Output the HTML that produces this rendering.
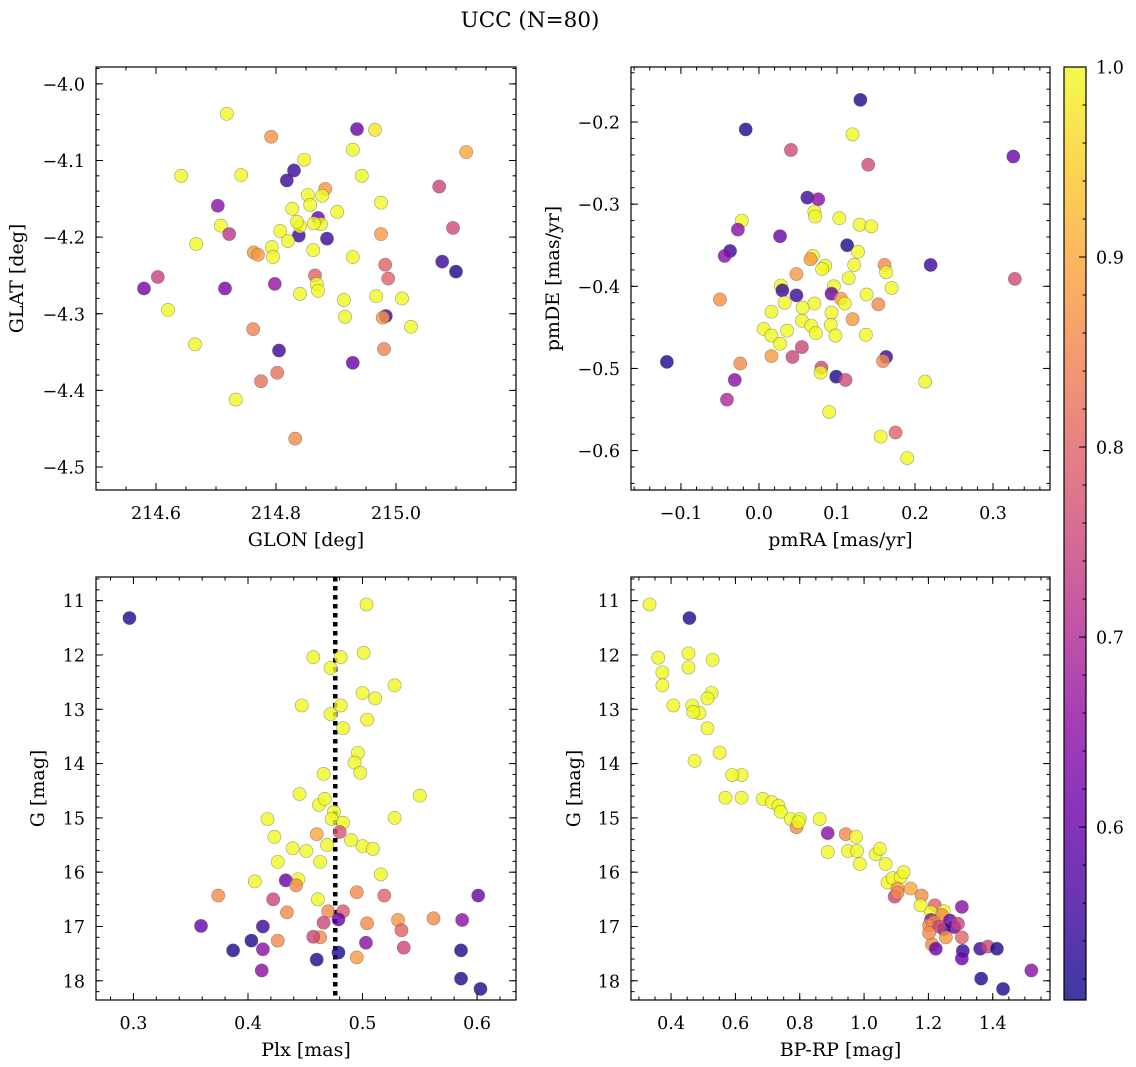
<!DOCTYPE html>
<html><head><meta charset="utf-8">
<style>
html,body{margin:0;padding:0;background:#fff;}
svg{display:block;font-family:"DejaVu Serif","Liberation Serif",serif;}
</style></head>
<body>
<svg id="fig" width="1136" height="1067" viewBox="0 0 1136 1067" xmlns="http://www.w3.org/2000/svg">
<text x="530" y="27" text-anchor="middle" font-size="21.5">UCC (N=80)</text>
</svg>
<script>
// ---- Panel 1: GLON vs GLAT ----
const glonA = [214.718,214.792,214.935,214.965,215.117,214.928,214.642,214.742,214.847,214.830,214.818,215.072,214.943,214.703,214.882,214.853,214.877,214.827,214.857,214.902,214.975,214.708,214.722,214.667,214.807,214.838,214.820,214.840,214.870,214.875,214.863,214.885,214.975,215.095,214.793,214.862,214.835,214.763,214.770,214.795,214.928,215.077,215.100,214.982,214.987,214.603,214.580,214.715,214.798,214.865,214.868,214.870,214.840,214.967,214.913,215.010,214.620,214.915,214.983,214.978,215.025,214.762,214.665,214.980,214.805,214.928,214.802,214.775,214.733,214.832];
const glatA = [-4.039,-4.069,-4.059,-4.060,-4.089,-4.086,-4.120,-4.119,-4.099,-4.113,-4.126,-4.134,-4.120,-4.159,-4.137,-4.145,-4.146,-4.163,-4.158,-4.167,-4.155,-4.185,-4.196,-4.209,-4.192,-4.198,-4.205,-4.186,-4.175,-4.183,-4.182,-4.202,-4.196,-4.188,-4.213,-4.217,-4.180,-4.220,-4.223,-4.226,-4.226,-4.232,-4.245,-4.236,-4.254,-4.252,-4.267,-4.267,-4.261,-4.250,-4.261,-4.270,-4.274,-4.277,-4.282,-4.280,-4.295,-4.304,-4.303,-4.305,-4.317,-4.320,-4.340,-4.346,-4.348,-4.364,-4.377,-4.388,-4.412,-4.463];
const probA = [1,0.87,0.6,0.98,0.9,1,1,1,1,0.55,0.55,0.75,1,0.65,0.88,1,1,1,1,1,1,1,0.72,1,1,0.55,1,1,0.6,1,1,0.55,0.88,0.76,1,1,1,0.88,0.88,1,1,0.55,0.52,0.8,0.8,0.74,0.62,0.62,0.66,0.8,1,1,1,1,1,1,1,1,0.55,0.88,1,0.85,1,0.85,0.55,0.6,0.82,0.82,1,0.86];

// ---- Panel 2: pmRA vs pmDE ----
const pmraB = [0.130,-0.017,0.120,0.326,0.041,0.140,0.062,0.076,0.071,0.072,-0.022,0.103,0.129,0.144,-0.027,0.027,0.113,0.127,-0.037,-0.044,0.069,0.066,0.122,0.085,0.081,0.220,0.161,0.163,0.048,0.115,0.328,0.028,0.096,0.170,0.030,0.048,0.093,0.138,0.105,-0.050,0.033,0.071,0.110,0.153,0.056,0.016,0.093,0.120,0.055,0.067,0.092,0.006,0.036,0.073,0.137,0.098,0.016,0.027,0.055,0.016,0.043,0.163,0.159,-0.118,-0.024,0.080,0.079,0.099,0.111,-0.031,0.213,-0.041,0.090,0.156,0.175,0.190];
const pmdeB = [-0.173,-0.209,-0.215,-0.242,-0.234,-0.252,-0.292,-0.294,-0.309,-0.315,-0.320,-0.317,-0.325,-0.327,-0.331,-0.339,-0.350,-0.358,-0.357,-0.363,-0.363,-0.367,-0.374,-0.375,-0.379,-0.374,-0.374,-0.383,-0.385,-0.390,-0.391,-0.399,-0.400,-0.402,-0.405,-0.411,-0.409,-0.410,-0.415,-0.416,-0.420,-0.421,-0.421,-0.422,-0.426,-0.431,-0.432,-0.440,-0.442,-0.448,-0.447,-0.452,-0.454,-0.457,-0.459,-0.460,-0.460,-0.470,-0.474,-0.485,-0.486,-0.486,-0.491,-0.492,-0.494,-0.499,-0.505,-0.510,-0.514,-0.514,-0.516,-0.538,-0.553,-0.583,-0.578,-0.609];
const probB = [0.52,0.52,1,0.6,0.76,0.76,0.55,0.65,1,1,1,1,1,1,0.65,0.6,0.52,1,0.55,0.65,1,0.88,1,1,1,0.55,0.86,1,0.88,1,0.76,1,1,1,0.55,0.55,0.6,1,0.88,0.87,1,1,1,0.86,1,1,1,0.88,1,1,1,1,1,1,1,1,1,1,0.75,0.88,0.75,0.55,0.86,0.52,0.86,0.76,1,0.52,0.76,0.65,1,0.7,1,1,0.8,1];

// ---- Panel 3: Plx vs G ----
const plxC = [0.2965,0.5035,0.457,0.472,0.481,0.501,0.500,0.511,0.528,0.447,0.481,0.472,0.504,0.483,0.496,0.493,0.498,0.466,0.445,0.550,0.462,0.467,0.475,0.473,0.483,0.417,0.528,0.423,0.460,0.480,0.469,0.490,0.500,0.509,0.439,0.451,0.463,0.426,0.516,0.444,0.406,0.433,0.442,0.495,0.374,0.519,0.422,0.461,0.470,0.434,0.483,0.601,0.562,0.531,0.504,0.479,0.466,0.587,0.359,0.413,0.534,0.463,0.457,0.426,0.503,0.403,0.536,0.387,0.413,0.479,0.586,0.460,0.495,0.412,0.586,0.603];
const gC = [11.32,11.07,12.04,12.24,12.04,11.96,12.70,12.80,12.56,12.93,12.93,13.09,13.19,13.35,13.80,13.98,14.17,14.19,14.56,14.59,14.76,14.65,14.89,15.02,15.09,15.02,15.00,15.35,15.30,15.26,15.50,15.41,15.52,15.57,15.56,15.61,15.81,15.81,16.04,16.13,16.17,16.15,16.24,16.37,16.43,16.43,16.50,16.50,16.72,16.74,16.72,16.43,16.85,16.88,16.94,16.87,16.93,16.88,16.99,17.00,17.07,17.20,17.19,17.26,17.30,17.26,17.39,17.44,17.42,17.48,17.44,17.61,17.57,17.81,17.96,18.15];
const probC = [0.52,1,1,1,1,1,1,1,1,1,1,1,1,1,1,1,1,1,1,1,1,1,1,1,1,1,1,1,0.9,0.78,1,1,1,1,1,1,1,1,1,1,1,0.6,0.86,0.86,0.86,0.8,0.75,1,0.86,0.86,0.78,0.6,0.86,0.88,0.86,0.6,0.75,0.65,0.6,0.55,0.8,0.86,0.75,0.86,0.65,0.52,0.75,0.52,0.65,0.52,0.52,0.52,0.88,0.65,0.52,0.52];
const plxCut = [0.4762];

// ---- Panel 4: BP-RP vs G ----
const bprpD = [0.333,0.457,0.360,0.454,0.529,0.373,0.454,0.373,0.526,0.513,0.407,0.466,0.488,0.469,0.513,0.551,0.473,0.619,0.590,0.569,0.619,0.685,0.713,0.734,0.741,0.772,0.800,0.790,0.796,0.862,0.887,0.943,0.975,0.887,0.950,0.978,1.036,1.049,0.987,1.067,1.073,1.089,1.114,1.123,1.104,1.095,1.104,1.145,1.179,1.176,1.220,1.304,1.208,1.248,1.242,1.208,1.217,1.202,1.267,1.280,1.248,1.233,1.292,1.254,1.304,1.211,1.223,1.202,1.307,1.361,1.385,1.413,1.304,1.520,1.364,1.432];
const gD = [11.07,11.32,12.05,11.97,12.09,12.32,12.23,12.56,12.70,12.80,12.93,12.93,13.07,13.05,13.35,13.80,13.95,14.21,14.21,14.63,14.63,14.65,14.71,14.78,14.89,15.02,15.02,15.17,15.08,15.02,15.28,15.30,15.35,15.63,15.61,15.61,15.67,15.57,15.85,15.85,16.19,16.11,16.09,16.00,16.30,16.45,16.38,16.30,16.43,16.61,16.61,16.64,16.74,16.72,16.79,16.88,16.92,16.98,16.89,17.01,17.05,17.00,16.95,17.20,17.20,17.33,17.41,17.12,17.45,17.41,17.37,17.41,17.59,17.81,17.96,18.15];
const probD = [1,0.52,1,1,1,1,1,1,1,1,1,1,1,1,1,1,1,1,1,1,1,1,1,1,1,1,1,0.86,1,1,0.65,0.86,1,1,1,1,1,1,1,1,1,1,1,1,0.88,0.75,0.86,0.9,0.86,1,0.8,0.65,1,1,0.86,0.65,0.86,0.86,0.6,0.6,0.55,0.75,0.75,0.88,0.8,0.86,0.6,0.86,0.55,0.55,0.75,0.52,0.6,0.65,0.52,0.52];

const cbTicks = [0.6,0.7,0.8,0.9,1.0];
const cMin = 0.509, cMax = 1.0;

const NS = "http://www.w3.org/2000/svg";
const svg = document.getElementById('fig');
function mk(tag, attrs, parent){ const e=document.createElementNS(NS,tag); for(const k in attrs) e.setAttribute(k,attrs[k]); (parent||svg).appendChild(e); return e; }

const plasma = [[13,8,135],[65,4,157],[106,0,168],[143,13,164],[177,42,144],[204,71,120],[225,100,98],[242,132,75],[252,166,54],[252,206,37],[240,249,33]];
function cmap(v){
  let t=(v-cMin)/(cMax-cMin); t=Math.max(0,Math.min(1,t));
  const f=t*10, i=Math.min(9,Math.floor(f)), r=f-i;
  const a=plasma[i], b=plasma[i+1];
  return 'rgb('+[0,1,2].map(k=>Math.round(a[k]+(b[k]-a[k])*r)).join(',')+')';
}
function fmt(v,d){ const s=Math.abs(v).toFixed(d); return (v<-1e-9?'\u2212':'')+s; }
const TF=17.5, LF=19;

function panel(cfg){
  const {name,x0,x1,y0,y1,xd,yd,yinv,xMaj,xMin,yMaj,yMin,xdec,ydec,xlabel,ylabel,ylabx} = cfg;
  const sx = v => x0 + (v-xd[0])/(xd[1]-xd[0])*(x1-x0);
  const sy = yinv ? (v => y0 + (v-yd[0])/(yd[1]-yd[0])*(y1-y0)) : (v => y1 - (v-yd[0])/(yd[1]-yd[0])*(y1-y0));
  const g = mk('g',{});
  
  
  const clipId='clip-'+name;
  const cp=mk('clipPath',{id:clipId},g); mk('rect',{x:x0,y:y0,width:x1-x0,height:y1-y0},cp);
  const marks=mk('g',{'clip-path':'url(#'+clipId+')'},g);
  
  
  if(cfg.vline){
    const vl=mk('line',{x1:sx(cfg.vline[0]),x2:sx(cfg.vline[0]),y1:y0,y2:y1,stroke:'#000','stroke-width':4.5,'stroke-dasharray':'4.5,4.5'},marks);
    
    
  }
  for(let i=0;i<cfg.xs.length;i++){
    const c=mk('circle',{cx:sx(cfg.xs[i]),cy:sy(cfg.ys[i]),r:6.6,fill:cmap(cfg.cs[i]),'fill-opacity':0.8,stroke:'#555','stroke-opacity':0.55,'stroke-width':0.6},marks);
    
    
  }
  const ax=mk('g',{stroke:'#000','stroke-width':1},g);
  
  
  mk('rect',{x:x0,y:y0,width:x1-x0,height:y1-y0,fill:'none','stroke-width':1.2},ax);
  const eps=1e-9;
  for(let v=Math.ceil(xd[0]/xMin-eps)*xMin; v<=xd[1]+eps; v+=xMin){ const p=sx(v); mk('line',{x1:p,x2:p,y1:y1,y2:y1-3.5},ax); mk('line',{x1:p,x2:p,y1:y0,y2:y0+3.5},ax); }
  for(let v=Math.ceil(yd[0]/yMin-eps)*yMin; v<=yd[1]+eps; v+=yMin){ const p=sy(v); mk('line',{x1:x0,x2:x0+3.5,y1:p,y2:p},ax); mk('line',{x1:x1,x2:x1-3.5,y1:p,y2:p},ax); }
  xMaj.forEach(v=>{ const p=sx(v); mk('line',{x1:p,x2:p,y1:y1,y2:y1-7},ax); mk('line',{x1:p,x2:p,y1:y0,y2:y0+7},ax);
    const t=mk('text',{x:p,y:y1+29,'text-anchor':'middle','font-size':TF,fill:'#000',stroke:'none'},g); t.textContent=fmt(v,xdec);
      });
  yMaj.forEach(v=>{ const p=sy(v); mk('line',{x1:x0,x2:x0+7,y1:p,y2:p},ax); mk('line',{x1:x1,x2:x1-7,y1:p,y2:p},ax);
    const t=mk('text',{x:x0-11,y:p+6.5,'text-anchor':'end','font-size':TF,fill:'#000'},g); t.textContent=fmt(v,ydec);
      });
  const xl=mk('text',{x:(x0+x1)/2,y:y1+56,'text-anchor':'middle','font-size':LF},g); xl.textContent=xlabel;
   
  const yc=(y0+y1)/2;
  const yl=mk('text',{x:ylabx,y:yc,'text-anchor':'middle','font-size':LF,transform:'rotate(-90 '+ylabx+' '+yc+')'},g); yl.textContent=ylabel;
   
}

panel({name:'glon-glat-panel',x0:96,x1:516,y0:67,y1:490,xd:[214.5,215.2],yd:[-4.530,-3.978],yinv:false,
  xMaj:[214.6,214.8,215.0],xMin:0.05,yMaj:[-4.0,-4.1,-4.2,-4.3,-4.4,-4.5],yMin:0.02,xdec:1,ydec:1,
  xlabel:'GLON [deg]',ylabel:'GLAT [deg]',ylabx:23,xs:glonA,ys:glatA,cs:probA});
panel({name:'pm-panel',x0:631,x1:1050,y0:67,y1:490,xd:[-0.164,0.373],yd:[-0.648,-0.133],yinv:false,
  xMaj:[-0.1,0,0.1,0.2,0.3],xMin:0.02,yMaj:[-0.2,-0.3,-0.4,-0.5,-0.6],yMin:0.02,xdec:1,ydec:1,
  xlabel:'pmRA [mas/yr]',ylabel:'pmDE [mas/yr]',ylabx:559,xs:pmraB,ys:pmdeB,cs:probB});
panel({name:'plx-g-panel',x0:96,x1:516,y0:577,y1:1000,xd:[0.2673,0.634],yd:[10.564,18.354],yinv:true,
  xMaj:[0.3,0.4,0.5,0.6],xMin:0.02,yMaj:[11,12,13,14,15,16,17,18],yMin:0.2,xdec:1,ydec:0,
  xlabel:'Plx [mas]',ylabel:'G [mag]',ylabx:44,xs:plxC,ys:gC,cs:probC,vline:plxCut});
panel({name:'cmd-panel',x0:631,x1:1050,y0:577,y1:1000,xd:[0.2754,1.578],yd:[10.564,18.354],yinv:true,
  xMaj:[0.4,0.6,0.8,1.0,1.2,1.4],xMin:0.05,yMaj:[11,12,13,14,15,16,17,18],yMin:0.2,xdec:1,ydec:0,
  xlabel:'BP-RP [mag]',ylabel:'G [mag]',ylabx:580,xs:bprpD,ys:gD,cs:probD});

(function(){
  const cx0=1064,cx1=1086,cy0=67,cy1=1000;
  const cy = v => cy1 - (v-cMin)/(cMax-cMin)*(cy1-cy0);
  const g=mk('g',{});
  
  
  const defs=mk('defs',{},g);
  const lg=mk('linearGradient',{id:'cbg',x1:0,y1:1,x2:0,y2:0},defs);
  for(let i=0;i<=20;i++){ const v=cMin+(cMax-cMin)*i/20; mk('stop',{offset:(i/20),'stop-color':cmap(v),'stop-opacity':0.8},lg); }
  mk('rect',{x:cx0,y:cy0,width:cx1-cx0,height:cy1-cy0,fill:'url(#cbg)',stroke:'#000','stroke-width':1.2},g);
  for(let v=0.52; v<=cMax+1e-9; v+=0.02){ const p=cy(v); mk('line',{x1:cx1,x2:cx1-3.5,y1:p,y2:p,stroke:'#000'},g); }
  cbTicks.forEach(v=>{ const p=cy(v); mk('line',{x1:cx1,x2:cx1-7,y1:p,y2:p,stroke:'#000'},g);
    const t=mk('text',{x:cx1+10,y:p+6.5,'font-size':TF},g); t.textContent=v.toFixed(1);
      });
})();
</script>
</body></html>
